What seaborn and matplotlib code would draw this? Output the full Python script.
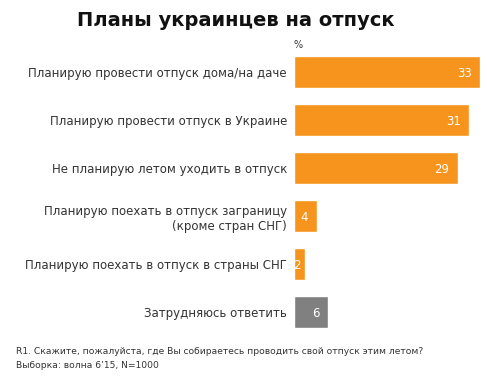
import pandas as pd
import matplotlib
matplotlib.use("Agg")
import matplotlib.pyplot as plt
import seaborn as sns

# данные
categories = [
    "Планирую провести отпуск дома/на даче",
    "Планирую провести отпуск в Украине",
    "Не планирую летом уходить в отпуск",
    "Планирую поехать в отпуск заграницу\n(кроме стран СНГ)",
    "Планирую поехать в отпуск в страны СНГ",
    "Затрудняюсь ответить",
]
values = [33, 31, 29, 4, 2, 6]
colors = ["#F7941D", "#F7941D", "#F7941D", "#F7941D", "#F7941D", "#808080"]

df = pd.DataFrame({"cat": categories, "val": values})

sns.set_style("white")
plt.rcParams["font.family"] = ["DejaVu Sans"]

fig = plt.figure(figsize=(4.87, 3.81), dpi=100)
ax = fig.add_axes([294 / 487, 0.118, 1 - 294 / 487, 0.756])

sns.barplot(data=df, y="cat", x="val", hue="cat", palette=colors,
            saturation=1, legend=False, width=0.667, ax=ax, orient="h")

ax.set_xlim(0, 34.2)
ax.set_ylim(5.5, -0.5)
ax.set_xlabel("")
ax.set_ylabel("")
ax.set_xticks([])
ax.tick_params(axis="y", length=0, pad=5, labelsize=8.5, labelcolor="#333333")
for s in ax.spines.values():
    s.set_visible(False)

# подписи значений
for i, v in enumerate(values):
    off = -6 if v > 3 else -3
    ax.annotate(str(v), xy=(v, i), xytext=(off, -1), textcoords="offset points",
                ha="right", va="center", color="white", fontsize=8.5)

fig.text(236 / 487, 1 - 20 / 381, "Планы украинцев на отпуск",
         ha="center", va="center", fontsize=14, fontweight="bold", color="#111111")
fig.text(294 / 487, 1 - 45 / 381, "%", ha="left", va="center",
         fontsize=7, color="#333333")
fig.text(16 / 487, 1 - 352 / 381,
         "R1. Скажите, пожалуйста, где Вы собираетесь проводить свой отпуск этим летом?",
         ha="left", va="center", fontsize=6.6, color="#333333")
fig.text(16 / 487, 1 - 366 / 381, "Выборка: волна 6’15, N=1000",
         ha="left", va="center", fontsize=6.6, color="#333333")

fig.savefig("out.png", dpi=100)
